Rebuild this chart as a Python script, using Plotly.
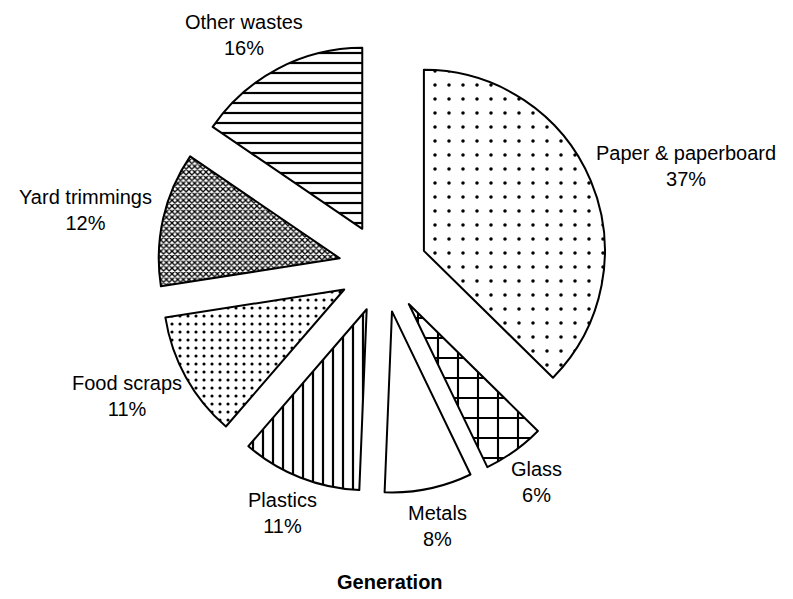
import math
import plotly.graph_objects as go

categories = ["Paper & paperboard", "Glass", "Metals", "Plastics", "Food scraps", "Yard trimmings", "Other wastes"]
# slice sizes
values = [37.4, 5.5, 7.8, 10.7, 11.2, 12.0, 15.5]
# percentages printed on the labels
percent_labels = [37, 6, 8, 11, 11, 12, 16]
pattern_shapes = [".", "+", "", "|", ".", "x", "-"]
pattern_sizes = [14, 20, 10, 10, 8, 4, 10]
pattern_solidity = [0.05, 0.2, 0.1, 0.22, 0.12, 0.55, 0.22]

W, H = 793, 599
FONT = "Liberation Sans, Arial, Helvetica, sans-serif"
FS = 20
PULL = 0.245

# pie box (pixels, figure coords)
cx, cy = 375.0, 260.0
r = 181.0
half = r * (1 + PULL)
dom_x = [(cx - half) / W, (cx + half) / W]
dom_y = [(H - cy - half) / H, (H - cy + half) / H]

# Arial / Liberation Sans advance widths (per 1000 em) for label measuring
ADV = {" ": 278, "&": 667, "%": 889, "P": 667, "G": 778, "M": 833, "F": 611, "Y": 667, "O": 778,
       "a": 556, "b": 556, "c": 500, "d": 556, "e": 556, "g": 556, "h": 556, "i": 222, "l": 222,
       "m": 833, "n": 556, "o": 556, "p": 556, "r": 333, "s": 500, "t": 278, "w": 722, "y": 500}


def text_width(t):
    return sum(ADV.get(ch, 556) for ch in t) * FS / 1000.0


fig = go.Figure(go.Pie(
    labels=categories,
    values=values,
    sort=False,
    direction="clockwise",
    rotation=0,
    pull=[PULL] * len(values),
    textinfo="none",
    automargin=False,
    marker=dict(
        colors=["white"] * len(values),
        line=dict(color="black", width=2),
        pattern=dict(
            shape=pattern_shapes,
            size=pattern_sizes,
            solidity=pattern_solidity,
            fgcolor="black",
            fgopacity=1,
            bgcolor="white",
            fillmode="overlay",
        ),
    ),
    domain=dict(x=dom_x, y=dom_y),
    showlegend=False,
    hoverinfo="label+percent",
))

# outside labels placed along each slice's mid-angle (derived from the values)
total = sum(values)
annotations = []
cum = 0.0
for lab, v, pl in zip(categories, values, percent_labels):
    mid = (cum + v / 2) / total * 2 * math.pi
    cum += v
    s, c = math.sin(mid), math.cos(mid)
    hw = max(text_width(lab), text_width(f"{pl}%")) / 2
    hh = 25
    base = 1.315 * r
    px = cx + base * s + hw * s
    py = cy - base * c - hh * c
    annotations.append(dict(
        text=f"{lab}<br>{pl}%",
        x=px / W, y=1 - py / H, xref="paper", yref="paper",
        xanchor="center", yanchor="middle", align="center",
        showarrow=False,
        font=dict(family=FONT, size=FS, color="black"),
    ))

annotations.append(dict(
    text="<b>Generation</b>",
    x=382 / W, y=25 / H, xref="paper", yref="paper",
    xanchor="center", yanchor="middle",
    showarrow=False,
    font=dict(family=FONT, size=FS, color="black"),
))

fig.update_layout(
    width=W,
    height=H,
    autosize=False,
    margin=dict(l=0, r=0, t=0, b=0, pad=0, autoexpand=False),
    paper_bgcolor="white",
    plot_bgcolor="white",
    annotations=annotations,
)

fig.write_html("out.html")
